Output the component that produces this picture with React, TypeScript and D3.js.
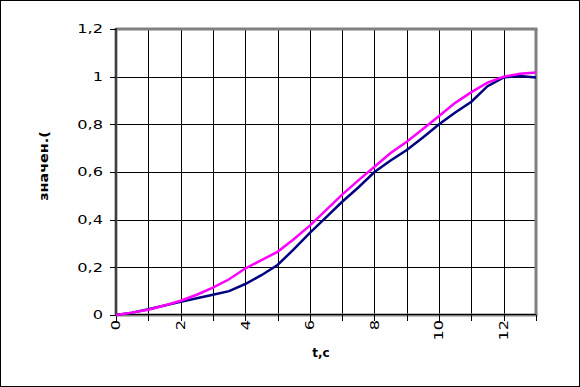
import React, { useEffect, useRef } from "react";
import * as d3 from "d3";

const times = [0, 0.5, 1, 1.5, 2, 2.5, 3, 3.5, 4, 4.5, 5, 5.5, 6, 6.5, 7, 7.5, 8, 8.5, 9, 9.5, 10, 10.5, 11, 11.5, 12, 12.5, 13];
const magentaValues = [0, 0.01, 0.022, 0.04, 0.06, 0.085, 0.115, 0.15, 0.195, 0.23, 0.265, 0.318, 0.375, 0.44, 0.505, 0.565, 0.622, 0.68, 0.727, 0.78, 0.835, 0.89, 0.935, 0.975, 1.0, 1.012, 1.017];
const blueValues = [0, 0.01, 0.024, 0.04, 0.055, 0.07, 0.085, 0.1, 0.13, 0.167, 0.21, 0.275, 0.345, 0.41, 0.475, 0.535, 0.6, 0.648, 0.692, 0.745, 0.8, 0.85, 0.895, 0.96, 0.997, 1.003, 0.997];
const xTickValues = [0, 1, 2, 3, 4, 5, 6, 7, 8, 9, 10, 11, 12, 13];
const xLabelValues = [0, 2, 4, 6, 8, 10, 12];
const yTickValues = [0, 0.2, 0.4, 0.6, 0.8, 1.0, 1.2];
const xTitle = "t,c";
const yTitle = "значен.(";

const W = 580;
const H = 387;
const L = 116, R = 536, T = 29, B = 315;

export default function App() {
  const ref = useRef<SVGSVGElement>(null);
  useEffect(() => {
    document.body.style.margin = "0";
    const svg = d3.select(ref.current);
    svg.selectAll("*").remove();
    const x = d3.scaleLinear().domain([0, 13]).range([L, R]);
    const y = d3.scaleLinear().domain([0, 1.2]).range([B, T]);
    const font = "'DejaVu Sans', Verdana, sans-serif";
    const stretch = 1.35;

    svg.append("rect").attr("x", 0.5).attr("y", 0.5).attr("width", W - 1).attr("height", H - 1)
      .attr("fill", "#fff").attr("stroke", "#000");

    const g = svg.append("g");
    // grid
    g.selectAll(".vg").data(xTickValues.filter(v => v > 0 && v < 13)).join("line")
      .attr("x1", d => Math.round(x(d)) + 0.5).attr("x2", d => Math.round(x(d)) + 0.5)
      .attr("y1", T).attr("y2", B).attr("stroke", "#000").attr("stroke-width", 1);
    g.selectAll(".hg").data(yTickValues.filter(v => v > 0 && v < 1.2)).join("line")
      .attr("x1", L).attr("x2", R)
      .attr("y1", d => Math.round(y(d)) + 0.5).attr("y2", d => Math.round(y(d)) + 0.5)
      .attr("stroke", "#000").attr("stroke-width", 1);

    // plot border (gray) top and right
    g.append("line").attr("x1", L).attr("x2", R + 1.5).attr("y1", T).attr("y2", T)
      .attr("stroke", "#808080").attr("stroke-width", 3);
    g.append("line").attr("x1", R).attr("x2", R).attr("y1", T).attr("y2", B)
      .attr("stroke", "#808080").attr("stroke-width", 3);
    // axes
    g.append("line").attr("x1", L).attr("x2", L).attr("y1", T - 1).attr("y2", B)
      .attr("stroke", "#808080").attr("stroke-width", 3);
    g.append("line").attr("x1", L).attr("x2", L).attr("y1", T - 1).attr("y2", B)
      .attr("stroke", "#000").attr("stroke-width", 1);
    g.append("line").attr("x1", L).attr("x2", R + 1.5).attr("y1", B).attr("y2", B)
      .attr("stroke", "#808080").attr("stroke-width", 3);
    g.append("line").attr("x1", L).attr("x2", R).attr("y1", B - 0.5).attr("y2", B - 0.5)
      .attr("stroke", "#000").attr("stroke-width", 1);

    // ticks
    g.selectAll(".yt").data(yTickValues).join("line")
      .attr("x1", L - 6).attr("x2", L)
      .attr("y1", d => Math.round(y(d)) + 0.5).attr("y2", d => Math.round(y(d)) + 0.5)
      .attr("stroke", "#000");
    g.selectAll(".xt").data(xTickValues).join("line")
      .attr("x1", d => Math.round(x(d)) + 0.5).attr("x2", d => Math.round(x(d)) + 0.5)
      .attr("y1", B).attr("y2", B + 6).attr("stroke", "#000");

    // tick labels
    g.selectAll(".yl").data(yTickValues).join("text")
      .attr("transform", d => `translate(103,${y(d)}) scale(${stretch},1)`)
      .attr("dy", "0.36em")
      .attr("text-anchor", "end").attr("font-family", font).attr("font-size", 12)
      .text(d => d3.format(".1~f")(d).replace(".", ","));
    g.selectAll(".xl").data(xLabelValues).join("text")
      .attr("transform", d => `translate(${x(d)},${B + 5}) rotate(-90) scale(${stretch},1)`)
      .attr("dy", "0.36em").attr("text-anchor", "end")
      .attr("font-family", font).attr("font-size", 12)
      .text(d => String(d));

    // lines
    const idx = d3.range(times.length);
    const lineM = d3.line<number>().x(i => x(times[i])).y(i => y(magentaValues[i]));
    const lineB = d3.line<number>().x(i => x(times[i])).y(i => y(blueValues[i]));
    g.append("path").attr("d", lineB(idx)).attr("fill", "none").attr("stroke", "#000080").attr("stroke-width", 2.5);
    g.append("path").attr("d", lineM(idx)).attr("fill", "none").attr("stroke", "#FF00FF").attr("stroke-width", 2.5);

    // titles
    g.append("text").attr("x", 321).attr("y", 357).attr("text-anchor", "middle")
      .attr("font-family", font).attr("font-size", 12).attr("font-weight", "bold")
      .text(xTitle);
    g.append("text").attr("transform", `translate(44,166) rotate(-90) scale(1.2,1)`)
      .attr("dy", "0.36em").attr("text-anchor", "middle")
      .attr("font-family", font).attr("font-size", 12).attr("font-weight", "bold")
      .text(yTitle);
  }, []);
  return <svg ref={ref} width={W} height={H} style={{ display: "block" }} />;
}
